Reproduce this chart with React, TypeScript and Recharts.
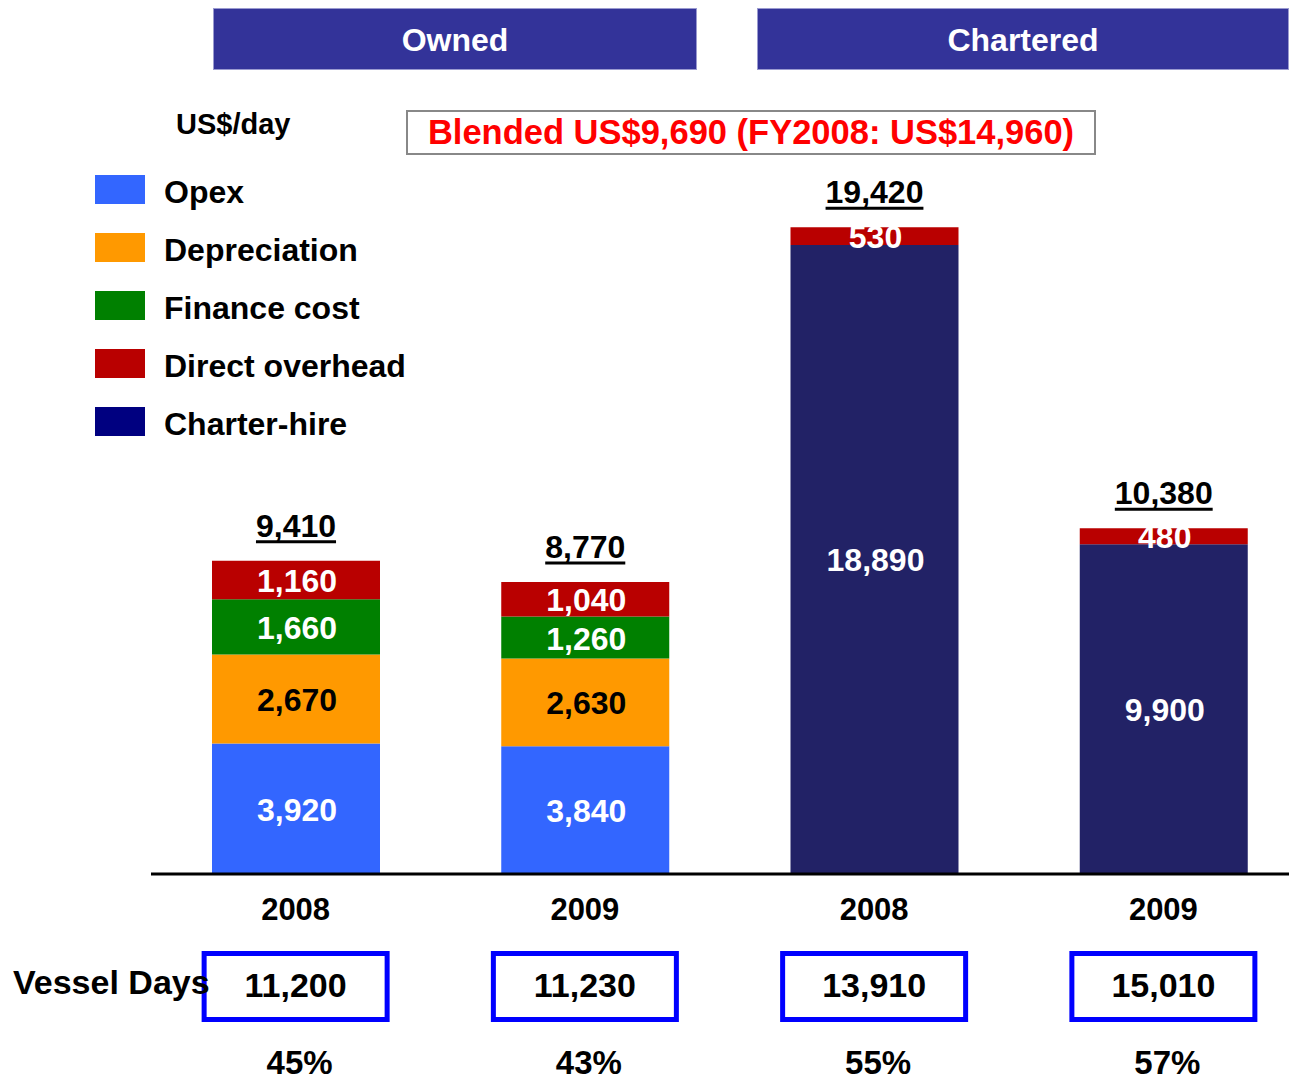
import { BarChart, Bar, XAxis, YAxis, LabelList, Legend } from 'recharts';

// per-day cost, US$ — two owned years then two chartered years
const categories = ['2008', '2009', '2008', '2009'];
const opex = [3920, 3840, 0, 0];
const depreciation = [2670, 2630, 0, 0];
const financeCost = [1660, 1260, 0, 0];
const charterHire = [0, 0, 18890, 9900];
const directOverhead = [1160, 1040, 530, 480];
const vesselDays = [11200, 11230, 13910, 15010];
const vesselShare = [45, 43, 55, 57];

const FONT = '"Liberation Sans", Arial, sans-serif';

// stacking order, bottom to top
const series = [
  { key: 'opex', name: 'Opex', fill: '#3366FF', legend: '#3366FF', text: '#FFFFFF' },
  { key: 'depreciation', name: 'Depreciation', fill: '#FF9900', legend: '#FF9900', text: '#000000' },
  { key: 'financeCost', name: 'Finance cost', fill: '#008000', legend: '#008000', text: '#FFFFFF' },
  { key: 'charterHire', name: 'Charter-hire', fill: '#222266', legend: '#000080', text: '#FFFFFF' },
  { key: 'directOverhead', name: 'Direct overhead', fill: '#B90000', legend: '#B90000', text: '#FFFFFF' },
];
const legendOrder = ['opex', 'depreciation', 'financeCost', 'directOverhead', 'charterHire'];

const data = categories.map((year, i) => ({
  year,
  opex: opex[i],
  depreciation: depreciation[i],
  financeCost: financeCost[i],
  charterHire: charterHire[i],
  directOverhead: directOverhead[i],
  total: opex[i] + depreciation[i] + financeCost[i] + charterHire[i] + directOverhead[i],
}));

const fmt = (v: number) => v.toLocaleString('en-US');

// rough Arial-bold width for digits and commas
const numWidth = (s: string, size: number) =>
  s.split('').reduce((acc, c) => acc + (c === ',' ? 0.278 : 0.556), 0) * size;

const segmentLabel = (color: string) => (props: any) => {
  const { x, y, width, height, value } = props;
  if (!value) return null;
  return (
    <text
      x={Number(x) + Number(width) / 2 + 1}
      y={Number(y) + Number(height) / 2 + 1}
      textAnchor="middle"
      dominantBaseline="central"
      fill={color}
      fontFamily={FONT}
      fontWeight="bold"
      fontSize={32}
    >
      {fmt(value)}
    </text>
  );
};

const TotalLabel = (props: any) => {
  const { x, y, width, value } = props;
  if (!value) return null;
  const cx = Number(x) + Number(width) / 2;
  const s = fmt(value);
  const w = numWidth(s, 32);
  const base = Number(y) - 24;
  return (
    <g>
      <text x={cx} y={base} textAnchor="middle" fill="#000" fontFamily={FONT} fontWeight="bold" fontSize={32}>
        {s}
      </text>
      <line x1={cx - w / 2} x2={cx + w / 2} y1={base + 5} y2={base + 5} stroke="#000" strokeWidth={3} />
    </g>
  );
};

const BottomTick = (props: any) => {
  const { x, y, payload, index } = props;
  const i = payload?.index ?? index;
  return (
    <g fontFamily={FONT} fontWeight="bold" fill="#000">
      <text x={x} y={y + 35} textAnchor="middle" dominantBaseline="central" fontSize={31}>
        {payload.value}
      </text>
      <rect x={x - 91.5} y={y + 79.5} width={183} height={66} fill="none" stroke="#0000FF" strokeWidth={5} />
      <text x={x} y={y + 111} textAnchor="middle" dominantBaseline="central" fontSize={34}>
        {fmt(vesselDays[i])}
      </text>
      <text x={x + 4} y={y + 188} textAnchor="middle" dominantBaseline="central" fontSize={33}>
        {vesselShare[i]}%
      </text>
    </g>
  );
};

const LegendBox = () => (
  <div style={{ fontFamily: FONT, fontWeight: 'bold' }}>
    {legendOrder.map((k) => {
      const s = series.find((d) => d.key === k)!;
      return (
        <div key={k} style={{ display: 'flex', alignItems: 'center', height: 58 }}>
          <div style={{ width: 50, height: 29, background: s.legend, marginRight: 19 }} />
          <span style={{ fontSize: 32, color: '#000', whiteSpace: 'nowrap', position: 'relative', top: 3 }}>
            {s.name}
          </span>
        </div>
      );
    })}
  </div>
);

const headerBox = (left: number, width: number, label: string) => (
  <div
    style={{
      position: 'absolute',
      left,
      top: 9,
      width,
      height: 60,
      background: '#333399',
      boxShadow: '0 0 0 1px #9a9ad0',
      color: '#fff',
      fontSize: 32,
      fontWeight: 'bold',
      display: 'flex',
      alignItems: 'center',
      justifyContent: 'center',
      paddingTop: 3,
      boxSizing: 'border-box',
    }}
  >
    {label}
  </div>
);

export default function App() {
  return (
    <div
      style={{
        position: 'fixed',
        left: 0,
        top: 0,
        width: 1289,
        height: 1079,
        overflow: 'hidden',
        background: '#fff',
        fontFamily: FONT,
      }}
    >
      <BarChart
        width={1320}
        height={1079}
        data={data}
        margin={{ top: 208, right: 12, bottom: 0, left: 151 }}
        barSize={168}
      >
        <XAxis
          dataKey="year"
          height={205}
          tickSize={0}
          tickMargin={0}
          tickLine={false}
          axisLine={{ stroke: '#000', strokeWidth: 3 }}
          tick={<BottomTick />}
          interval={0}
        />
        <YAxis hide domain={[0, 20000]} />
        <Legend
          layout="vertical"
          align="center"
          verticalAlign="middle"
          content={<LegendBox />}
          wrapperStyle={{ position: 'absolute', left: 95, top: 160, width: 340 }}
        />
        {series.map((s) => (
          <Bar key={s.key} dataKey={s.key} name={s.name} stackId="cost" fill={s.fill} isAnimationActive={false}>
            <LabelList dataKey={s.key} content={segmentLabel(s.text)} />
            {s.key === 'directOverhead' && <LabelList dataKey="total" content={<TotalLabel />} />}
          </Bar>
        ))}
      </BarChart>

      {headerBox(214, 482, 'Owned')}
      {headerBox(758, 530, 'Chartered')}

      <div style={{ position: 'absolute', left: 176, top: 108, fontSize: 29, fontWeight: 'bold', color: '#000' }}>
        US$/day
      </div>

      <div
        style={{
          position: 'absolute',
          left: 406,
          top: 110,
          width: 686,
          height: 41,
          border: '2px solid #888',
          color: '#FF0000',
          fontSize: 34.5,
          fontWeight: 'bold',
          display: 'flex',
          alignItems: 'center',
          justifyContent: 'center',
          whiteSpace: 'nowrap',
        }}
      >
        Blended US$9,690 (FY2008: US$14,960)
      </div>

      <div style={{ position: 'absolute', left: 13, top: 963, fontSize: 34, fontWeight: 'bold', color: '#000' }}>
        Vessel Days
      </div>
    </div>
  );
}
